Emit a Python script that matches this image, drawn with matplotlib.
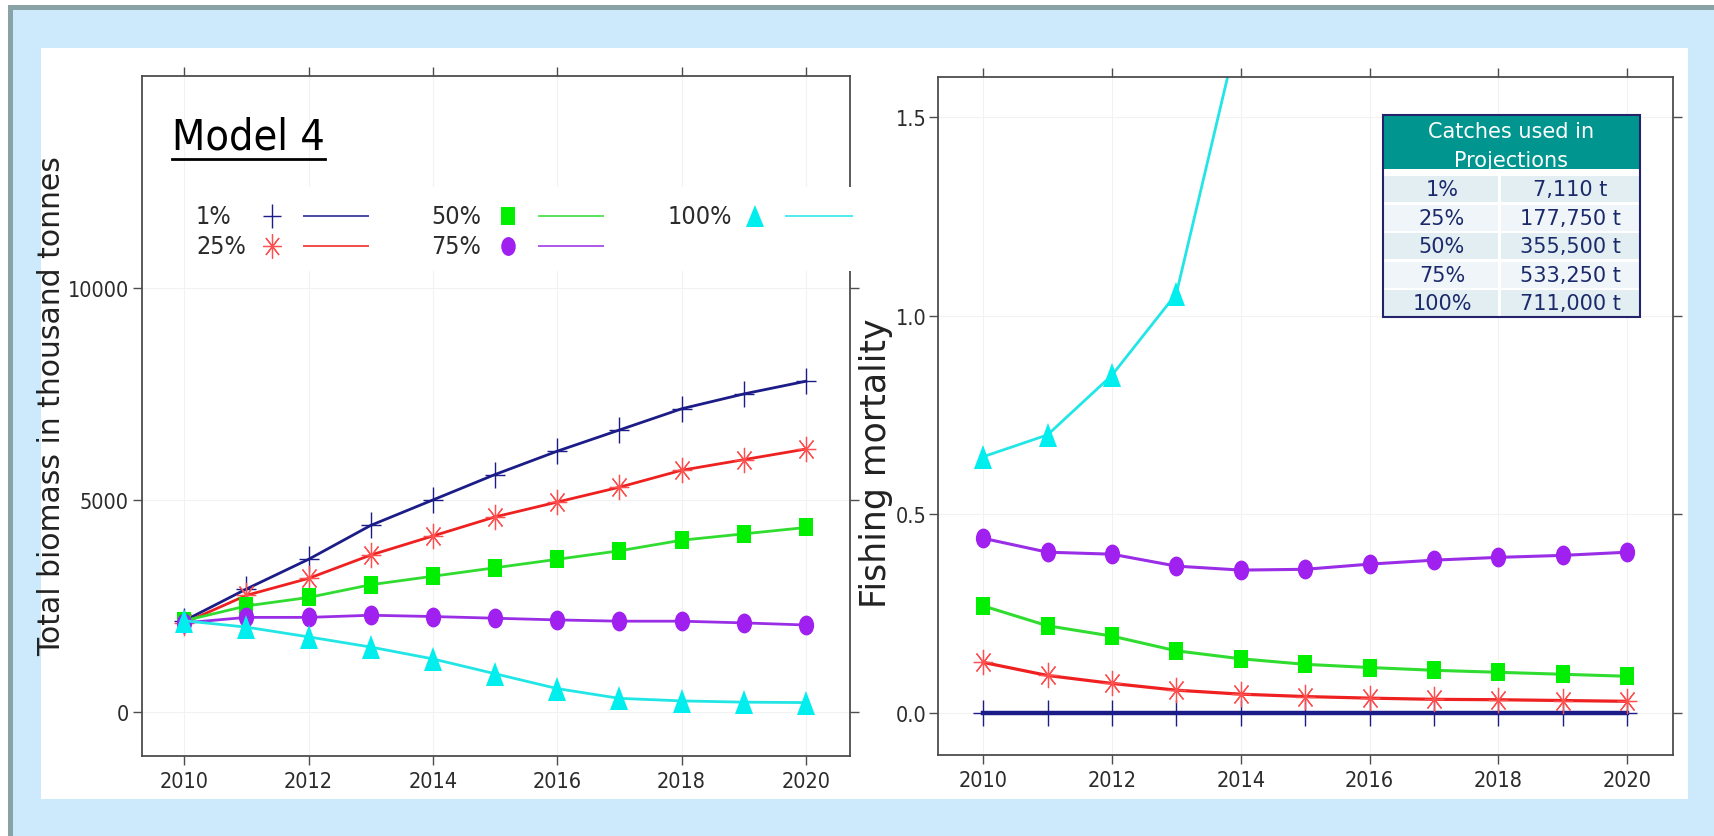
import matplotlib
matplotlib.use('Agg')
import matplotlib.pyplot as plt
from matplotlib.patches import Rectangle
from matplotlib.markers import MarkerStyle
from matplotlib.transforms import Affine2D
from matplotlib import font_manager

W, H = 1714, 837

# ---- data ----
years = [2010, 2011, 2012, 2013, 2014, 2015, 2016, 2017, 2018, 2019, 2020]
scenarios = ['1%', '25%', '50%', '75%', '100%']

biomass_1 = [2150, 2900, 3600, 4400, 5000, 5600, 6150, 6650, 7150, 7500, 7800]
biomass_25 = [2100, 2750, 3150, 3700, 4150, 4600, 4950, 5300, 5700, 5950, 6200]
biomass_50 = [2150, 2500, 2700, 3000, 3200, 3400, 3600, 3800, 4050, 4200, 4350]
biomass_75 = [2100, 2230, 2230, 2280, 2250, 2210, 2170, 2140, 2140, 2100, 2050]
biomass_100 = [2150, 2000, 1770, 1530, 1250, 900, 550, 320, 260, 230, 220]

fmort_1 = [0, 0, 0, 0, 0, 0, 0, 0, 0, 0, 0]
fmort_25 = [0.128, 0.095, 0.075, 0.058, 0.048, 0.042, 0.038, 0.035, 0.034, 0.032, 0.030]
fmort_50 = [0.27, 0.22, 0.194, 0.157, 0.137, 0.123, 0.115, 0.108, 0.103, 0.098, 0.093]
fmort_75 = [0.44, 0.405, 0.40, 0.37, 0.36, 0.362, 0.375, 0.385, 0.392, 0.397, 0.405]
fmort_100 = [0.645, 0.70, 0.85, 1.055, 1.74]  # goes off the top after 2013

catch_tonnes = ['7,110 t', '177,750 t', '355,500 t', '533,250 t', '711,000 t']

# ---- fonts: a narrow face if one is installed ----
narrow_file = None
for f in font_manager.fontManager.ttflist:
    fn = f.fname.lower()
    if ('narrow' in fn or 'condensed' in fn) and 'bold' not in fn and 'italic' not in fn \
            and 'oblique' not in fn and 'mono' not in fn and 'serif' not in fn:
        if narrow_file is None or 'liberation' in fn:
            narrow_file = f.fname
if narrow_file:
    NARROW = font_manager.FontProperties(fname=narrow_file)
    nscale = 1.0
else:
    NARROW = font_manager.FontProperties(family='Liberation Sans')
    nscale = 0.9
plt.rcParams['font.family'] = ['Liberation Sans', 'DejaVu Sans']

def nfont(size):
    fp = NARROW.copy()
    fp.set_size(size * nscale)
    return fp

NAVY = '#1c1c88'
RED = '#ee2020'
GREEN = '#2fdc2f'
PURPLE = '#9a2ee6'
CYAN = '#22e6e6'
FRAME = '#4d4d4d'

def mk(m, sy=1.3):
    return MarkerStyle(m, transform=Affine2D().scale(1, sy))

# marker, marker colour, size, edge width
styles = [
    ('+', NAVY, 14, 1.0),
    ((8, 2, 0), '#ff5050', 14, 0.9),
    ('s', '#00ee00', 10.5, 0),
    ('o', '#a020f0', 11, 0),
    ('^', '#00eeee', 13, 0),
]
colors = [NAVY, RED, GREEN, PURPLE, CYAN]

fig = plt.figure(figsize=(W / 100, H / 100), dpi=100)
fig.patch.set_facecolor('white')

def frect(x0, y0, x1, y1, color, z=-10):
    fig.add_artist(Rectangle((x0 / W, 1 - y1 / H), (x1 - x0) / W, (y1 - y0) / H,
                             transform=fig.transFigure, facecolor=color,
                             edgecolor='none', zorder=z))

# outer frame: grey edge, light blue slide, white panel
frect(8, 6, W, H, '#88a2a6')
frect(13, 11, W, H, '#cceafb')
frect(41, 49, 1688, 800, 'white')

axL = fig.add_axes([142 / W, 1 - 757 / H, 708 / W, 680 / H])
axR = fig.add_axes([938 / W, 1 - 756 / H, 735 / W, 678 / H])

for ax in (axL, axR):
    ax.set_facecolor('white')
    for s in ax.spines.values():
        s.set_color(FRAME)
        s.set_linewidth(1.3)
    ax.tick_params(direction='out', length=6.5, width=1, color=FRAME,
                   top=True, right=True, labeltop=False, labelright=False,
                   labelcolor='#2b2b2b', pad=4)
    ax.set_xticks([2010, 2012, 2014, 2016, 2018, 2020])
    ax.grid(True, color='#f2f2f2', lw=0.8)
    ax.set_axisbelow(True)

# left panel: biomass
biomass = [biomass_1, biomass_25, biomass_50, biomass_75, biomass_100]
for vals, c, (m, mc, ms, mew) in zip(biomass, colors, styles):
    axL.plot(years, vals, color=c, lw=2.0, marker=mk(m), ms=ms,
             mfc=mc, mec=mc, mew=mew)
axL.set_xlim(2009.32, 2020.71)
axL.set_ylim(-1040, 15000)
axL.set_yticks([0, 5000, 10000])
axL.tick_params(axis='y', pad=3)

# right panel: fishing mortality
fmort = [fmort_1, fmort_25, fmort_50, fmort_75, fmort_100]
rlw = [3.2, 2.3, 2.2, 2.2, 2.0]
for vals, c, (m, mc, ms, mew), lw in zip(fmort, colors, styles, rlw):
    axR.plot(years[:len(vals)], vals, color=c, lw=lw, marker=mk(m), ms=ms,
             mfc=mc, mec=mc, mew=mew)
axR.set_xlim(2009.30, 2020.71)
axR.set_ylim(-0.105, 1.6)
axR.set_yticks([0.0, 0.5, 1.0, 1.5])
axR.set_yticklabels(['0.0', '0.5', '1.0', '1.5'])
axR.tick_params(axis='y', pad=2)

for ax in (axL, axR):
    for t in ax.get_xticklabels() + ax.get_yticklabels():
        t.set_fontproperties(nfont(15.5))

fig.text(52 / W, 1 - 406 / H, 'Total biomass in thousand tonnes', rotation=90,
         ha='center', va='center', family='DejaVu Sans', size=21.5, color='#222222')
fig.text(876 / W, 1 - 463 / H, 'Fishing mortality', rotation=90,
         ha='center', va='center', family='DejaVu Sans', size=25, color='#222222')

# ---- overlay in pixel units: title, legend, table ----
ov = fig.add_axes([0, 0, 1, 1], zorder=10)
ov.set_xlim(0, W)
ov.set_ylim(H, 0)
ov.axis('off')
ov.patch.set_alpha(0)

title = ov.text(172, 137, 'Model 4', fontproperties=nfont(31),
                ha='left', va='center', color='black')
fig.canvas.draw()
tb = title.get_window_extent()
ov.plot([172, 172 + tb.width], [160, 160], color='black', lw=2)

# legend box (white, hides part of the frame)
ov.add_patch(Rectangle((186, 188), 676, 84, facecolor='white', edgecolor='none'))
leg_cols = [(196, 272, 304, 368), (431, 508, 539, 603), (668, 755, 786, 852)]
leg_rows = [217, 247]
for i, lab in enumerate(scenarios):
    col, row = divmod(i, 2)
    tx, mx, l0, l1 = leg_cols[col]
    y = leg_rows[row]
    m, mc, ms, mew = styles[i]
    ov.text(tx, y, lab, fontproperties=nfont(18),
            ha='left', va='center', color='#2b2b2b')
    ov.plot([mx], [y], ls='none', marker=mk(m), ms=ms * 0.95, mfc=mc, mec=mc, mew=mew)
    ov.plot([l0, l1], [y, y], color=colors[i], lw=1.4, alpha=0.8)

# catches table
tx0, tx1, ty0, ty1 = 1383, 1640, 116, 318
ov.add_patch(Rectangle((tx0, ty0), tx1 - tx0, ty1 - ty0, facecolor='white', edgecolor='none'))
hdr = Rectangle((tx0, ty0), tx1 - tx0, 54, facecolor='#00968f', edgecolor='none')
ov.add_patch(hdr)
tfont = dict(family='DejaVu Sans', fontsize=15)
ov.text((tx0 + tx1) / 2, 132, 'Catches used in', color='white', ha='center', va='center', **tfont)
t2 = ov.text((tx0 + tx1) / 2, 161, 'Projections', color='white', ha='center', va='center', **tfont)
t2.set_clip_path(hdr)
colsplit = 1500
for i, (pct, tonnes) in enumerate(zip(scenarios, catch_tonnes)):
    yc = 190 + 28.5 * i
    bg = '#e2eef1' if i % 2 == 0 else '#eff5f8'
    ov.add_patch(Rectangle((tx0, yc - 13), colsplit - tx0 - 1.5, 26, facecolor=bg, edgecolor='none'))
    ov.add_patch(Rectangle((colsplit + 1.5, yc - 13), tx1 - colsplit - 1.5, 26, facecolor=bg, edgecolor='none'))
    ov.text(1442, yc, pct, color='#1b2a6b', ha='center', va='center', **tfont)
    ov.text(1570, yc, tonnes, color='#1b2a6b', ha='center', va='center', **tfont)
ov.add_patch(Rectangle((tx0, ty0), tx1 - tx0, ty1 - ty0, facecolor='none',
                       edgecolor='#23236b', lw=1.5))

fig.savefig('out.png', dpi=100)
